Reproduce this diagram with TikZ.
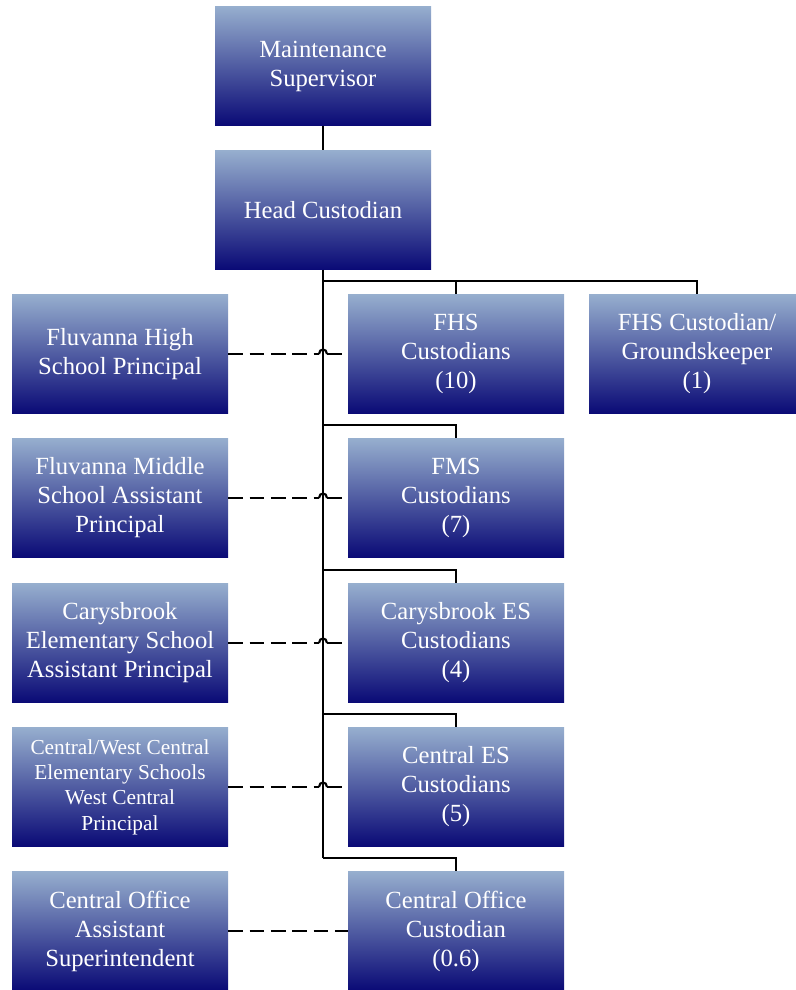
\documentclass[tikz,border=0pt]{standalone}
\usepackage{fontspec}
\setmainfont{Liberation Serif}
\usetikzlibrary{positioning}

\definecolor{boxtop}{RGB}{150,174,206}
\definecolor{boxmid}{RGB}{96,112,168}
\definecolor{boxbot}{RGB}{10,10,118}

\begin{document}
\begin{tikzpicture}[x=0.75pt,y=-0.75pt,
  post/.style={minimum width=162pt,minimum height=89pt,inner sep=0pt,
    top color=boxtop,middle color=boxmid,bottom color=boxbot,
    text=white,align=center,font=\fontsize{18.5}{21.75}\selectfont},
  smallpost/.style={post,font=\fontsize{16}{19}\selectfont},
  conn/.style={line width=1.4pt},
  dashline/.style={line width=1.6pt,dash pattern=on 11pt off 5pt}]
\useasboundingbox (0,0) rectangle (796,990);

% top of the chart
\node[post] (ms) at (323,66) {Maintenance\\Supervisor};
\node[post] (hc) at (323,210) {Head Custodian};

% custodians
\node[post] (fhs) at (456,354) {FHS\\Custodians\\(10)};
\node[post] (fgk) at (697,354) {FHS Custodian/\\Groundskeeper\\(1)};
\node[post] (fms) at (456,498) {FMS\\Custodians\\(7)};
\node[post] (ces) at (456,643) {Carysbrook ES\\Custodians\\(4)};
\node[post] (cen) at (456,787) {Central ES\\Custodians\\(5)};
\node[post] (coc) at (456,931) {Central Office\\Custodian\\(0.6)};

% school leaders
\node[post] (fhp) at (120,354) {Fluvanna High\\School Principal};
\node[post] (fmp) at (120,498) {Fluvanna Middle\\School Assistant\\Principal};
\node[post] (cep) at (120,643) {Carysbrook\\Elementary School\\Assistant Principal};
\node[smallpost] (cwp) at (120,787) {Central/West Central\\Elementary Schools\\West Central\\Principal};
\node[post] (cop) at (120,931) {Central Office\\Assistant\\Superintendent};

\draw[conn] (ms) -- (hc);
\draw[conn] (hc.south) -- ([yshift=13*0.75pt]hc.south |- coc.north);
\draw[conn] ([yshift=13*0.75pt]hc.south |- fgk.north) -| (fgk.north);
\foreach \m in {fhs,fms,ces,cen,coc}
{
\draw[conn] ([yshift=13*0.75pt]hc.south |- \m.north) -| (\m.north);
}

% dashed lines hop over the trunk
\foreach \l/\m in {fhp/fhs,fmp/fms,cep/ces,cwp/cen}
{
\draw[dashline] (\l.east) -- ([xshift=-3pt]hc.south |- \l.east);
\draw[line width=1.6pt] ([xshift=-3pt]hc.south |- \l.east)
  .. controls +(0,-6) and +(0,-6) .. ([xshift=3pt]hc.south |- \l.east);
\draw[dashline] ([xshift=3pt]hc.south |- \l.east) -- (\m.west);
}
\draw[dashline] (cop.east) -- (coc.west);

\end{tikzpicture}
\end{document}
